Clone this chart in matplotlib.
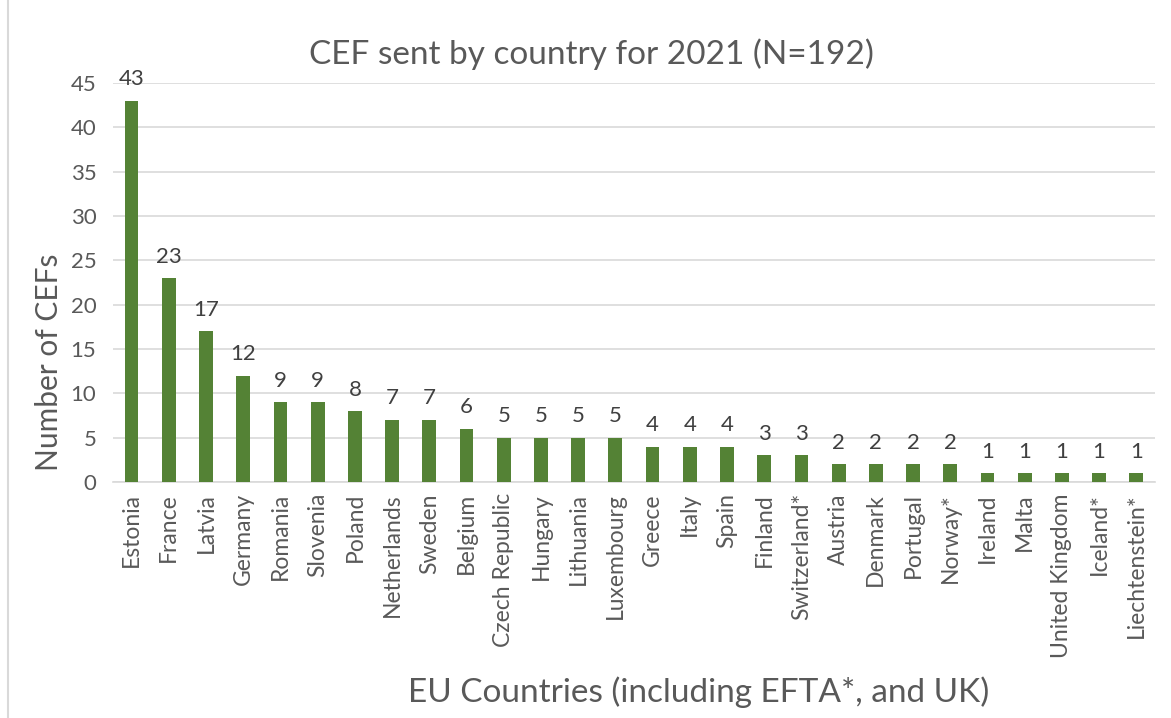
import matplotlib.pyplot as plt
from matplotlib.patches import Rectangle

countries = ["Estonia", "France", "Latvia", "Germany", "Romania", "Slovenia", "Poland",
             "Netherlands", "Sweden", "Belgium", "Czech Republic", "Hungary", "Lithuania",
             "Luxembourg", "Greece", "Italy", "Spain", "Finland", "Switzerland*", "Austria",
             "Denmark", "Portugal", "Norway*", "Ireland", "Malta", "United Kingdom",
             "Iceland*", "Liechtenstein*"]
cefs = [43, 23, 17, 12, 9, 9, 8, 7, 7, 6, 5, 5, 5, 5, 4, 4, 4, 3, 3, 2, 2, 2, 2, 1, 1, 1, 1, 1]

plt.rcParams['font.family'] = ['Lato', 'DejaVu Sans']
text_col = "#595959"
bar_col = "#548235"

fig = plt.figure(figsize=(11.71, 7.18), dpi=100)
ax = fig.add_axes([0.0965, 0.3287, 0.8898, 0.5557])

x = range(len(countries))
ax.bar(x, cefs, width=0.37, color=bar_col, zorder=3)
for xi, v in zip(x, cefs):
    ax.text(xi, v + 1.3, str(v), ha="center", va="bottom", fontsize=16, color="#404040")

ax.set_xlim(-0.5, len(countries) - 0.5)
ax.set_ylim(0, 45)
ax.set_yticks(range(0, 46, 5))
ax.set_xticks(list(x))
ax.set_xticklabels(countries, rotation=90, fontsize=16.5, color=text_col)
ax.tick_params(axis="y", labelsize=16, labelcolor=text_col, length=0, pad=12)
ax.tick_params(axis="x", length=0, pad=8)
ax.grid(axis="y", color="#d9d9d9", linewidth=1.2, zorder=0)
for s in ["top", "right", "left"]:
    ax.spines[s].set_visible(False)
ax.spines["bottom"].set_color("#d9d9d9")
ax.spines["bottom"].set_linewidth(1.2)

# label sits lower than the axis centre in the original
ax.set_ylabel("Number of CEFs", fontsize=21.5, color=text_col)
ax.yaxis.set_label_coords(-0.0615, 0.30)
ax.yaxis.label.set_va("center")
fig.text(0.505, 0.925, "CEF sent by country for 2021 (N=192)", ha="center", va="center",
         fontsize=24, color=text_col)
fig.text(0.597, 0.036, "EU Countries (including EFTA*, and UK)", ha="center", va="center",
         fontsize=24, color=text_col)

fig.patches.append(Rectangle((8 / 1171, -0.01), 1.2, 1.2, transform=fig.transFigure,
                             fill=False, edgecolor="#d9d9d9", linewidth=1.5))

fig.savefig("out.png", dpi=100)
